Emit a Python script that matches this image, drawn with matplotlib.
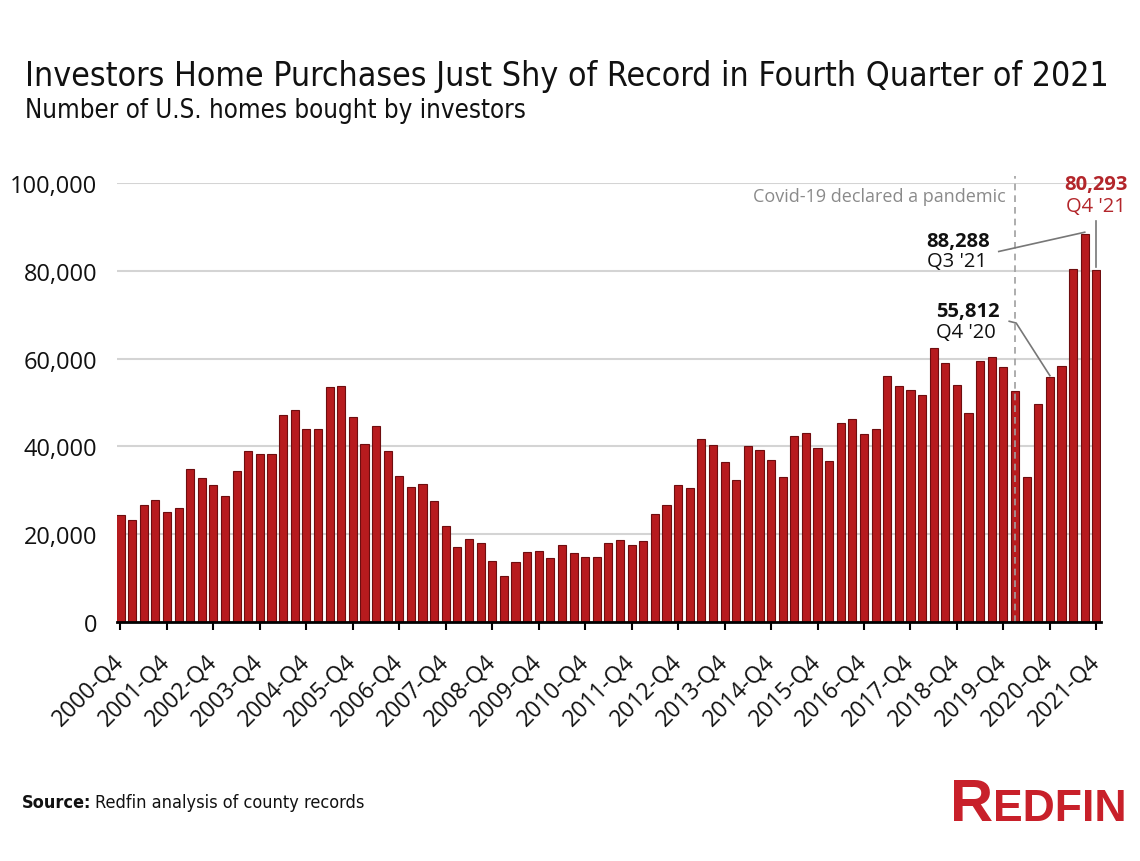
import matplotlib
matplotlib.use("Agg")
import matplotlib.pyplot as plt
import matplotlib.transforms as mtransforms
from matplotlib.ticker import FuncFormatter
import numpy as np

# --- data ---
quarters = ["2000-Q4"] + [f"{y}-Q{q}" for y in range(2001, 2022) for q in range(1, 5)]
purchases = [
    24300, 23300, 26700, 27700, 25000, 25900, 34750, 32800, 31100, 28700,
    34500, 38850, 38200, 38200, 47200, 48200, 44000, 44000, 53500, 53650,
    46800, 40500, 44700, 38900, 33200, 30800, 31500, 27500, 21800, 17100,
    19000, 18100, 13900, 10400, 13700, 16000, 16200, 14500, 17500, 15800,
    14700, 14900, 18100, 18700, 17500, 18400, 24700, 26700, 31100, 30500,
    41650, 40400, 36400, 32400, 40000, 39100, 36950, 33000, 42260, 43000,
    39700, 36570, 45370, 46200, 42870, 43930, 56000, 53800, 52960, 51750,
    62440, 59030, 54100, 47650, 59560, 60470, 58200, 52730, 32930, 49545,
    55812, 58350, 80500, 88288, 80293,
]
tick_labels = [q for q in quarters if q.endswith("Q4")]
yticks = [0, 20000, 40000, 60000, 80000, 100000]

covid_quarter = "2020-Q1"
callout_quarters = ["2020-Q4", "2021-Q3", "2021-Q4"]
callout_values = ["55,812", "88,288", "80,293"]
callout_labels = ["Q4 '20", "Q3 '21", "Q4 '21"]

title = "Investors Home Purchases Just Shy of Record in Fourth Quarter of 2021"
subtitle = "Number of U.S. homes bought by investors"

# --- style ---
RED = "#b71b1e"
EDGE = "#6e0d0f"
DARKRED = "#b3262b"
BODY = "Open Sans"
COND = dict(family="DejaVu Sans", fontstretch="condensed")
W, H = 1140, 862

fig = plt.figure(figsize=(W / 100, H / 100), dpi=100)
fig.patch.set_facecolor("white")
ax = fig.add_axes([117 / W, 1 - 623 / H, 984 / W, 439 / H])

x = np.arange(len(purchases))
ax.bar(x, purchases, width=0.7, color=RED, edgecolor=EDGE, linewidth=0.8, zorder=2)
ax.set_xlim(-0.3, len(purchases) - 0.6)
ax.set_ylim(0, 100000)

ax.set_yticks(yticks)
ax.yaxis.set_major_formatter(FuncFormatter(lambda v, p: f"{v:,.0f}"))
ax.grid(axis="y", color="#d4d4d4", lw=1.5, zorder=0)
ax.set_axisbelow(True)
for s in ["top", "right", "left"]:
    ax.spines[s].set_visible(False)
ax.spines["bottom"].set_linewidth(2)
ax.spines["bottom"].set_color("black")
ax.spines["bottom"].set_zorder(3)
ax.tick_params(axis="y", length=0, pad=14, labelsize=17)

ax.set_xticks([quarters.index(q) for q in tick_labels])
ax.set_xticklabels(tick_labels, rotation=45, ha="right", rotation_mode="anchor")
ax.tick_params(axis="x", length=6, width=1.5, pad=14, labelsize=16.5)
shift = mtransforms.ScaledTranslation(-6 / 72, 0, fig.dpi_scale_trans)
for lab in ax.get_xticklabels():
    lab.set_transform(lab.get_transform() + shift)
for lab in ax.get_xticklabels() + ax.get_yticklabels():
    lab.set_fontfamily(BODY)
    lab.set_color("#111111")

# covid marker
cx = quarters.index(covid_quarter)
ax.plot([cx, cx], [0, 101500], ls=(0, (4, 3)), color="#a0a0a0", lw=1.2,
        clip_on=False, zorder=3)
ax.text(cx - 0.8, 97000, "Covid-19 declared a pandemic", ha="right", va="center",
        fontsize=13, color="#8a8a8a", family=BODY)

# callouts
i20, i213, i214 = [quarters.index(q) for q in callout_quarters]
lead = dict(color="#777777", lw=1.2, clip_on=False, zorder=4)
fs = 14.5

ax.text(72.9, 70800, callout_values[0], ha="center", va="center", fontsize=fs,
        fontweight="bold", family=BODY, color="#111111")
ax.text(72.8, 66000, callout_labels[0], ha="center", va="center", fontsize=fs,
        family=BODY, color="#111111")
ax.plot([76.5, 77.1, i20], [68500, 68100, purchases[i20] + 300], **lead)

ax.text(72.1, 86800, callout_values[1], ha="center", va="center", fontsize=fs,
        fontweight="bold", family=BODY, color="#111111")
ax.text(72.0, 82200, callout_labels[1], ha="center", va="center", fontsize=fs,
        family=BODY, color="#111111")
ax.plot([75.6, i213], [84400, purchases[i213] + 500], **lead)

ax.text(i214, 99800, callout_values[2], ha="center", va="center", fontsize=fs,
        fontweight="bold", family=BODY, color=DARKRED)
ax.text(i214, 94800, callout_labels[2], ha="center", va="center", fontsize=fs,
        family=BODY, color=DARKRED)
ax.plot([i214, i214], [91300, purchases[i214] + 500], **lead)

# titles, fitted to the reference width
t = fig.text(25 / W, 1 - 86 / H, title, fontsize=28, va="baseline",
             color="#111111", **COND)
st = fig.text(25 / W, 1 - 118 / H, subtitle, fontsize=20, va="baseline",
              color="#111111", **COND)
fig.canvas.draw()
r = fig.canvas.get_renderer()
t.set_fontsize(28 * 1085 / t.get_window_extent(r).width)
st.set_fontsize(20 * 500 / st.get_window_extent(r).width)

# source
s1 = fig.text(22 / W, 1 - 808 / H, "Source:", fontsize=13, fontweight="bold",
              va="baseline", color="#111111", **COND)
fig.canvas.draw()
e = s1.get_window_extent(r)
fig.text((e.x1 + 4) / W, 1 - 808 / H, "Redfin analysis of county records",
         fontsize=13, va="baseline", color="#111111", **COND)

# logo
l1 = fig.text(950 / W, 1 - 821 / H, "R", fontsize=43, fontweight="bold",
              family="Liberation Sans", va="baseline", color="#c8202a")
fig.canvas.draw()
e = l1.get_window_extent(r)
fig.text(e.x1 / W, 1 - 821 / H, "EDFIN", fontsize=32, fontweight="bold",
         family="Liberation Sans", va="baseline", color="#c8202a")

fig.savefig("out.png", dpi=100, facecolor="white")
